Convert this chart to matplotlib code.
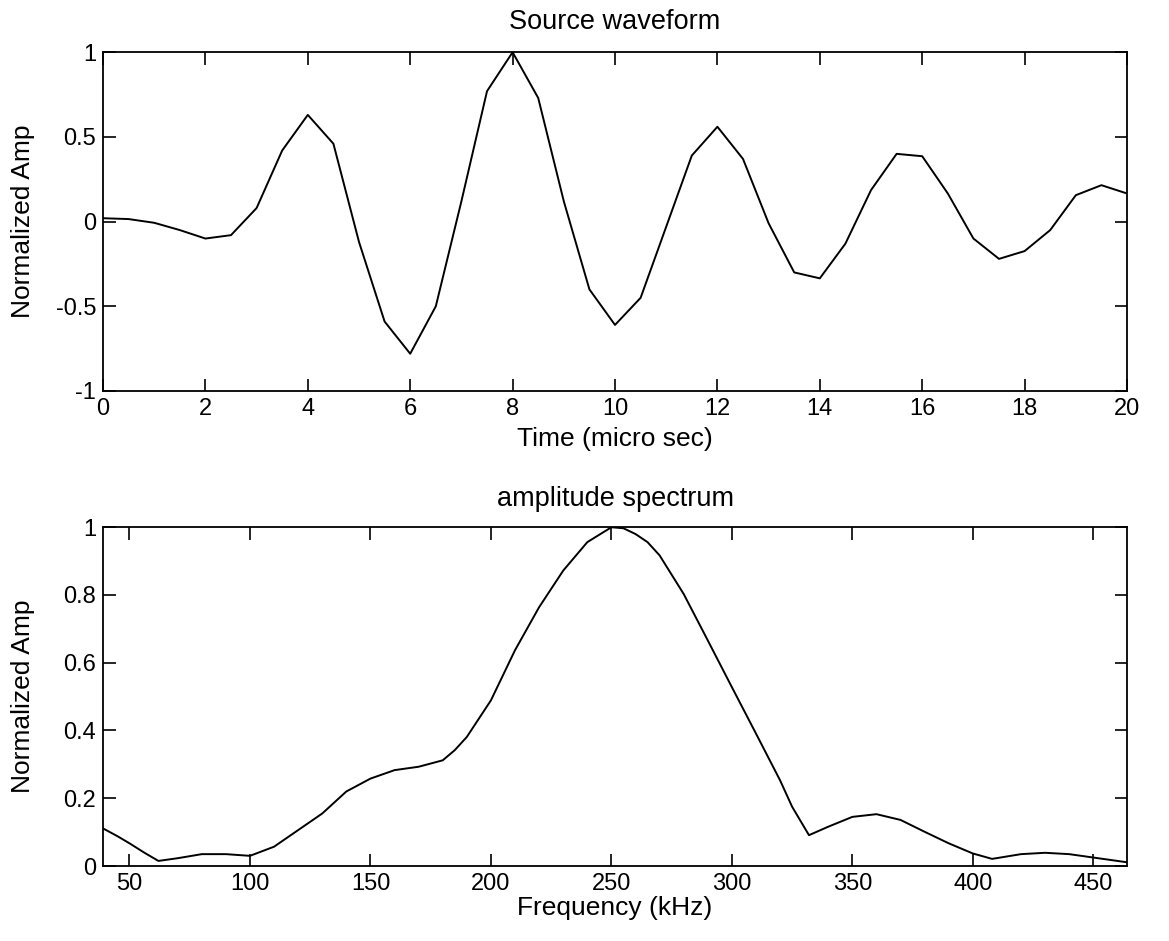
import numpy as np
import matplotlib.pyplot as plt

plt.rcParams['font.family'] = ['Liberation Sans', 'DejaVu Sans']

# source waveform (sampled every 0.5 micro sec)
t_us = [0, 0.5, 1, 1.5, 2, 2.5, 3, 3.5, 4, 4.5, 5, 5.5, 6, 6.5, 7, 7.5, 8, 8.5,
        9, 9.5, 10, 10.5, 11, 11.5, 12, 12.5, 13, 13.5, 14, 14.5, 15, 15.5,
        16, 16.5, 17, 17.5, 18, 18.5, 19, 19.5, 20]
amp_t = [0.02, 0.015, -0.007, -0.05, -0.10, -0.08, 0.08, 0.42, 0.63, 0.46,
         -0.12, -0.59, -0.78, -0.50, 0.12, 0.77, 1.0, 0.73, 0.12, -0.40,
         -0.61, -0.45, -0.03, 0.39, 0.56, 0.37, -0.01, -0.30, -0.335, -0.13,
         0.186, 0.40, 0.386, 0.166, -0.10, -0.22, -0.174, -0.05, 0.156, 0.215,
         0.166]

# amplitude spectrum
f_khz = [39, 45, 50, 56, 62, 70, 80, 90, 100, 110, 120, 130, 140, 150, 160,
         170, 180, 185, 190, 200, 210, 220, 230, 240, 250, 255, 260, 265, 270,
         280, 290, 300, 310, 320, 325, 332, 340, 350, 360, 370, 380, 390, 400,
         408, 420, 430, 440, 450, 464]
amp_f = [0.111, 0.088, 0.067, 0.040, 0.015, 0.023, 0.035, 0.035, 0.030, 0.057,
         0.106, 0.155, 0.220, 0.258, 0.283, 0.293, 0.312, 0.342, 0.381, 0.489,
         0.637, 0.764, 0.872, 0.956, 1.0, 0.997, 0.98, 0.956, 0.917, 0.803,
         0.666, 0.528, 0.391, 0.253, 0.175, 0.091, 0.116, 0.145, 0.153, 0.136,
         0.101, 0.067, 0.037, 0.021, 0.035, 0.039, 0.035, 0.025, 0.011]

fig = plt.figure(figsize=(11.69, 9.41), dpi=100)
ax1 = fig.add_axes([0.0881, 0.5845, 0.876, 0.360])
ax2 = fig.add_axes([0.0881, 0.0797, 0.876, 0.360])

ax1.plot(t_us, amp_t, color='black', lw=1.4)
ax1.set_xlim(0, 20)
ax1.set_ylim(-1, 1)
ax1.set_xticks(np.arange(0, 21, 2))
ax1.set_yticks([-1, -0.5, 0, 0.5, 1])
ax1.set_yticklabels(['-1', '-0.5', '0', '0.5', '1'])
ax1.set_title('Source waveform', fontsize=19.5, pad=17)
ax1.set_xlabel('Time (micro sec)', fontsize=19, labelpad=5)
ax1.set_ylabel('Normalized Amp', fontsize=19)

ax2.plot(f_khz, amp_f, color='black', lw=1.4)
ax2.set_xlim(39, 464)
ax2.set_ylim(0, 1)
ax2.set_xticks(np.arange(50, 451, 50))
ax2.set_yticks([0, 0.2, 0.4, 0.6, 0.8, 1])
ax2.set_yticklabels(['0', '0.2', '0.4', '0.6', '0.8', '1'])
ax2.set_title('amplitude spectrum', fontsize=19.5, pad=15)
ax2.set_xlabel('Frequency (kHz)', fontsize=19, labelpad=1)
ax2.set_ylabel('Normalized Amp', fontsize=19)

for ax in (ax1, ax2):
    ax.tick_params(direction='in', top=True, right=True, length=9, width=1.2,
                   labelsize=17, pad=5)
    ax.yaxis.set_label_coords(-0.066, 0.5)
    for s in ax.spines.values():
        s.set_linewidth(1.3)

fig.savefig('out.png', dpi=100)
